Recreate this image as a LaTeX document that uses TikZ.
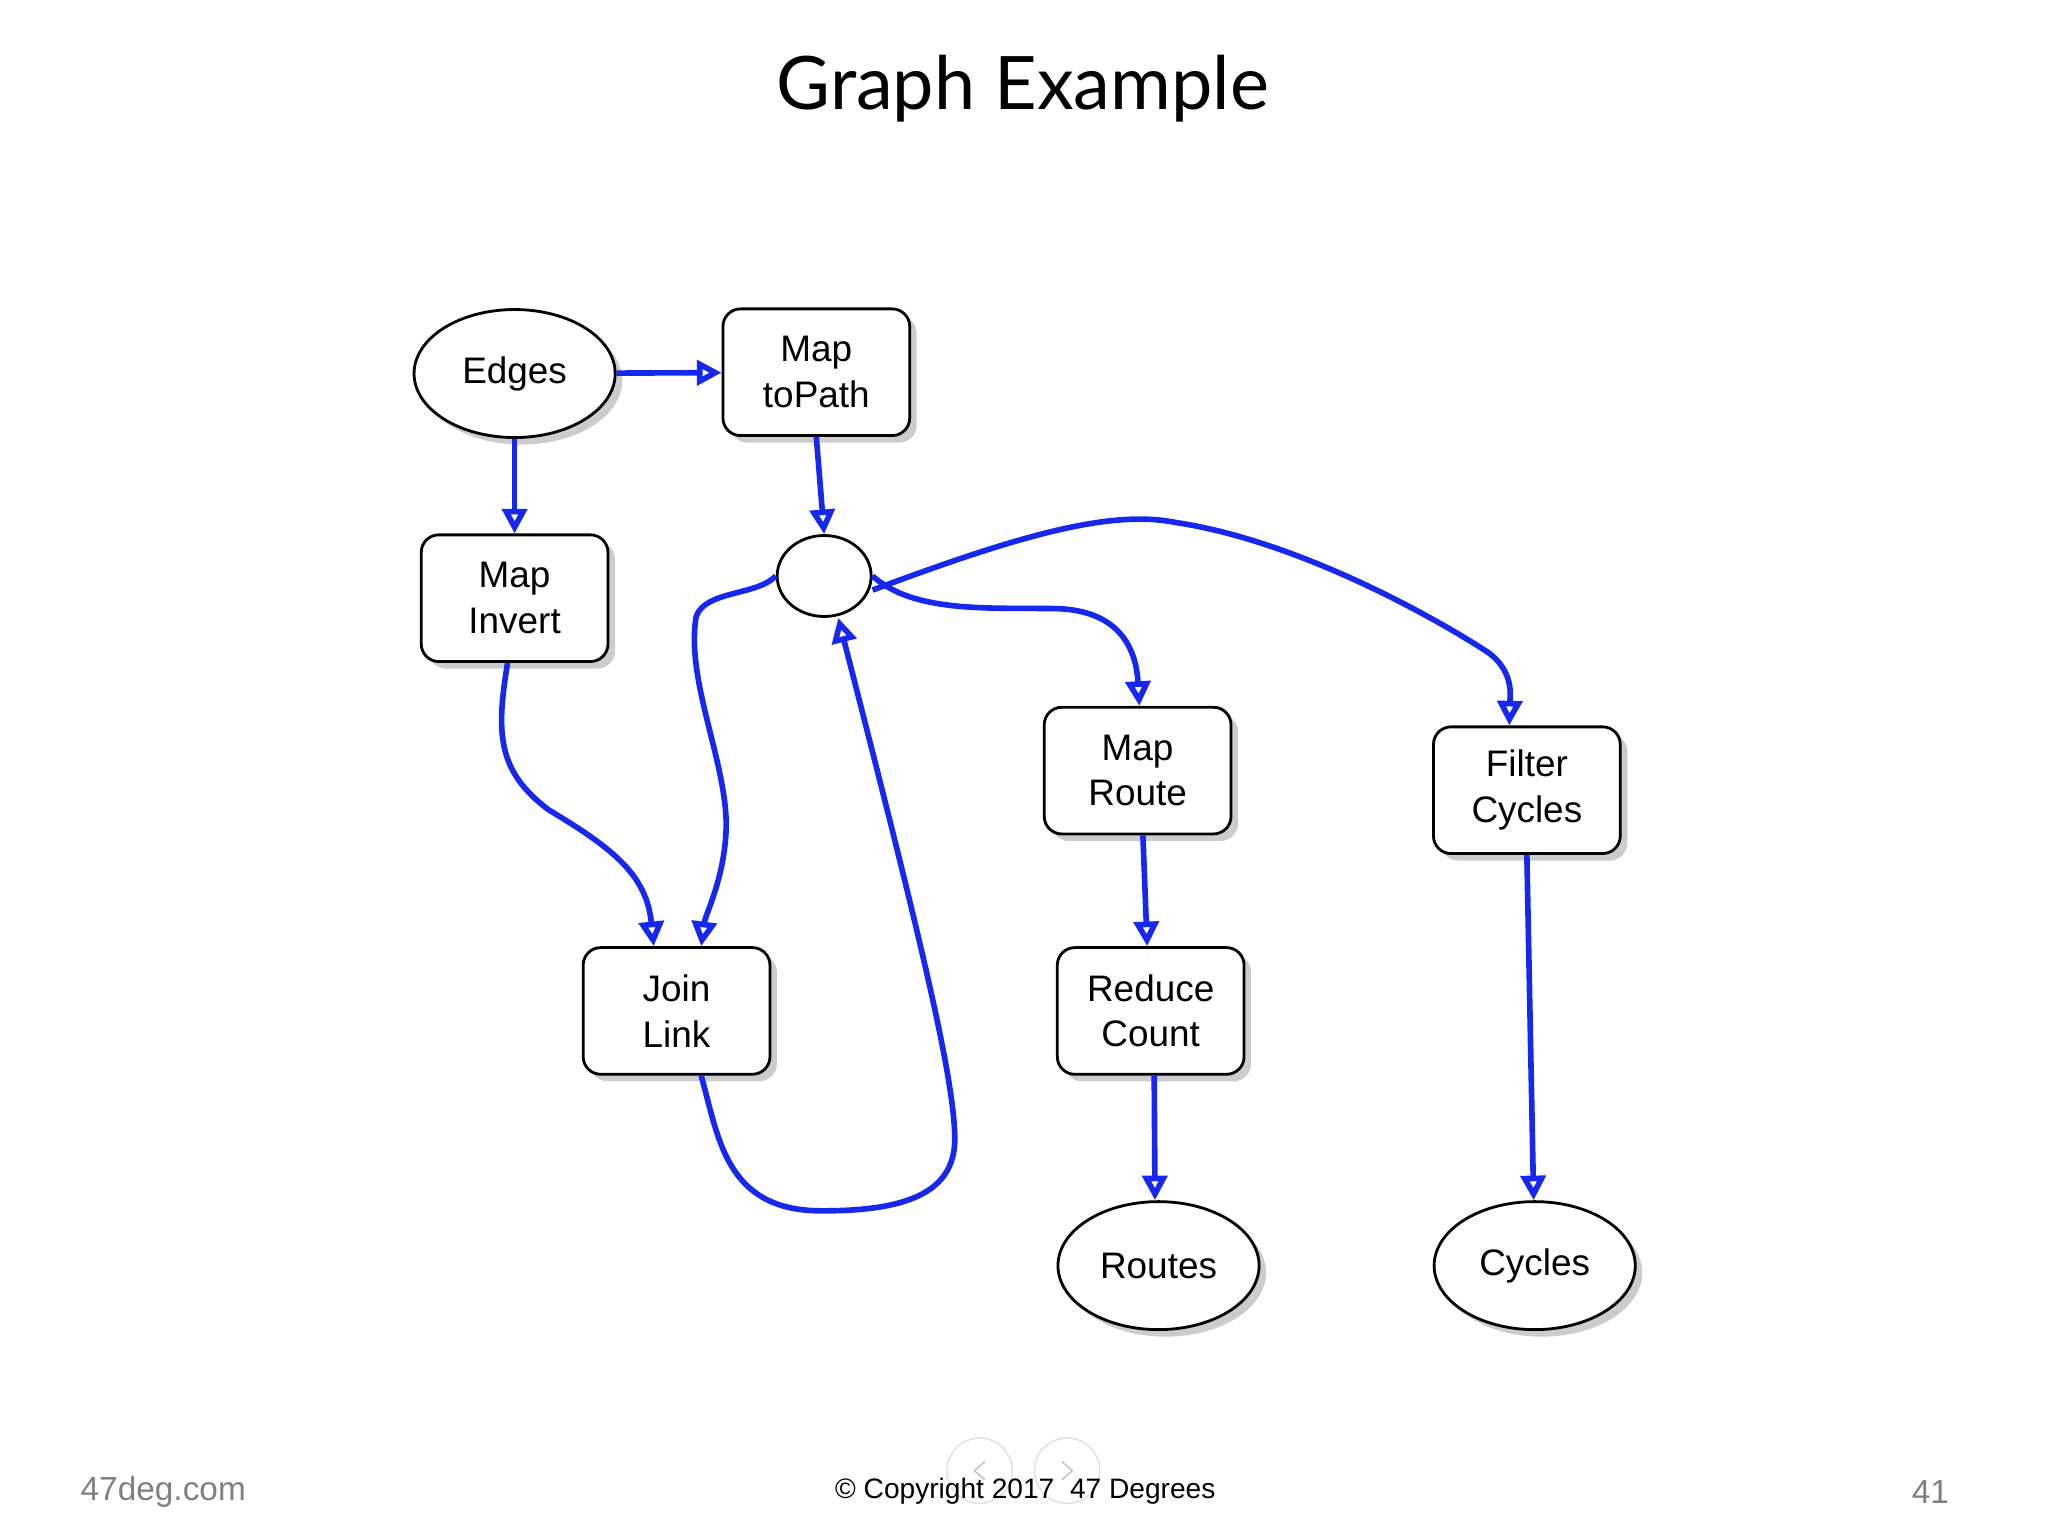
\documentclass[tikz,border=0pt]{standalone}
\usepackage{fontspec}
\setmainfont{Liberation Sans}
\newfontfamily\titlefont{Lato}
\usetikzlibrary{shapes.geometric,shadows,arrows.meta}
\definecolor{flowblue}{RGB}{22,40,240}
\begin{document}
\begin{tikzpicture}[x=0.013061cm,y=-0.013061cm]
      \tikzstyle{box}=[draw,thick,rounded corners=5pt,fill=white,minimum width=143*0.013061cm,minimum height=97*0.013061cm,align=center,font=\fontsize{10.5}{13}\selectfont,drop shadow={shadow xshift=2pt,shadow yshift=-2pt,opacity=0.4}]
      \tikzstyle{store}=[draw,thick,ellipse,fill=white,minimum width=154*0.013061cm,minimum height=98*0.013061cm,font=\fontsize{10.5}{13}\selectfont,drop shadow={shadow xshift=2pt,shadow yshift=-2pt,opacity=0.4}]
      \tikzstyle{flow}=[draw,flowblue,line width=1.6pt,-{Triangle[open,length=7pt,width=7pt]}]
      \useasboundingbox (0,0) rectangle (1568,1176);
      \node[font=\titlefont\fontsize{21}{26}\selectfont] (title) at (783,68) {Graph Example};
      \node[store] (edges) at (394,286) {Edges};
      \node[box] (topath) at (625,285) {Map\\toPath};
      \node[draw,thick,ellipse,fill=white,minimum width=72*0.013061cm,minimum height=62*0.013061cm] (hub) at (631,441) {};
      \node[box] (invert) at (394,458) {Map\\Invert};
      \node[box] (join) at (518,774) {Join\\Link};
      \node[box] (route) at (871,590) {Map\\Route};
      \node[box] (filter) at (1169,605) {Filter\\Cycles};
      \node[box] (reduce) at (881,774) {Reduce\\Count};
      \node[store] (routes) at (887,969) {Routes};
      \node[store] (cycles) at (1175,969) {Cycles};
      \path[flow] (edges) -- (topath);
      \path[flow] (edges) -- (invert);
      \path[flow] (topath.south) -- (hub.north);
      \path[flow] (hub.east) .. controls (700,470) and (760,465) .. (810,466) .. controls (860,468) and (870,500) .. ([xshift=0.5pt]route.north);
      \path[flow] ([yshift=-4pt]hub.east) .. controls (780,410) and (850,390) .. (900,400) .. controls (1000,415) and (1110,480) .. (1140,500) .. controls (1160,515) and (1156,535) .. ([xshift=-5pt]filter.north);
      \path[flow] (hub.west) .. controls (580,456) and (540,452) .. (533,472) .. controls (525,520) and (555,580) .. (556,630) .. controls (556,670) and (540,700) .. ([xshift=7pt]join.north);
      \path[flow] ([xshift=7pt]join.south) .. controls (550,870) and (555,925) .. (625,927) .. controls (700,928) and (732,910) .. (731,870) .. controls (730,820) and (700,700) .. ([xshift=4pt]hub.south);
      \path[flow] ([xshift=-2pt]invert.south) .. controls (380,560) and (380,590) .. (420,620) .. controls (470,650) and (495,670) .. ([xshift=-6.5pt]join.north);
      \path[flow] ([xshift=1.5pt]route.south) -- ([xshift=-1pt]reduce.north);
      \path[flow] ([xshift=1pt]reduce.south) -- ([xshift=-1pt]routes.north);
      \path[flow] (filter.south) -- ([xshift=-0.3pt]cycles.north);
      \draw[gray!25] (750,1126) circle (25) (817,1126) circle (25);
      \draw[gray!50] (754,1119) -- (746,1126) -- (754,1133) (813,1119) -- (821,1126) -- (813,1133);
      \node[gray,font=\fontsize{9.5}{11}\selectfont] (site) at (125,1142) {47deg.com};
      \node[font=\fontsize{8}{10}\selectfont] (copy) at (785,1142) {\textcopyright\ Copyright 2017\ \ 47 Degrees};
      \node[gray,font=\fontsize{9.5}{11}\selectfont] (page) at (1478,1142) {41};
    \end{tikzpicture}
\end{document}
